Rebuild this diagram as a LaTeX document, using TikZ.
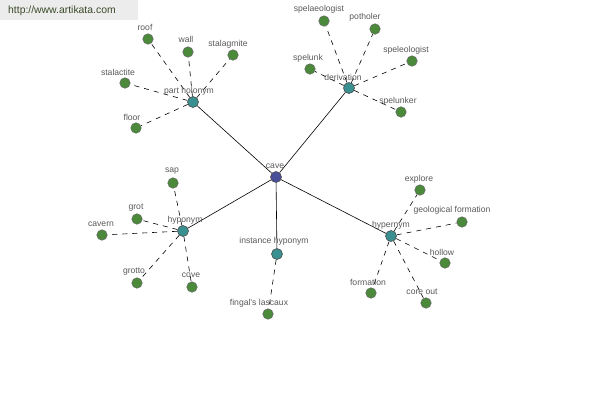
\documentclass[tikz,border=0pt]{standalone}
\usepackage{fontspec}
\setmainfont{Liberation Sans}
\definecolor{centerc}{HTML}{4A4F9A}
\definecolor{hubc}{HTML}{3A9090}
\definecolor{leafc}{HTML}{4A8A3A}
\definecolor{labc}{HTML}{5A5A5A}
\definecolor{urlc}{HTML}{3A4A28}
\definecolor{urlbg}{HTML}{ECECEC}
\begin{document}
\begin{tikzpicture}[x=1pt,y=-1pt,
  centre/.style={circle,draw=black!70,line width=0.6pt,fill=centerc,minimum size=11pt,inner sep=0pt},
  hub/.style={circle,draw=black!70,line width=0.6pt,fill=hubc,minimum size=11pt,inner sep=0pt},
  leaf/.style={circle,draw=black!60,line width=0.5pt,fill=leafc,minimum size=10.5pt,inner sep=0pt},
  lab/.style={text=labc,font=\fontsize{8.6}{9}\selectfont,inner sep=0pt},
  solidedge/.style={draw=black,line width=0.6pt},
  dashedge/.style={draw=black,line width=0.6pt,dash pattern=on 5pt off 5pt}]
\useasboundingbox (0,0) rectangle (600,400);
\fill[white] (0,0) rectangle (600,400);
\node[fill=urlbg,anchor=north west,minimum width=138pt,minimum height=20pt,inner sep=0pt] (urlbox) at (0,0) {};
\node[text=urlc,font=\fontsize{10.4}{12}\selectfont,anchor=west,inner sep=0pt] (url) at (8,11) {http://www.artikata.com};

% centre and hubs
\node[centre] (cave) at (276,177) {};
\node[hub] (ph) at (193,102) {};
\node[hub] (der) at (349,88) {};
\node[hub] (hypo) at (183,231) {};
\node[hub] (inst) at (277,254) {};
\node[hub] (hyper) at (391,236) {};

% leaves
\node[leaf] (roof) at (148,39) {};
\node[leaf] (wall) at (188,52) {};
\node[leaf] (stalagmite) at (233,55) {};
\node[leaf] (stalactite) at (125,83) {};
\node[leaf] (floor) at (136,128) {};

\node[leaf] (spelaeologist) at (324,21) {};
\node[leaf] (potholer) at (375,29) {};
\node[leaf] (speleologist) at (412,61) {};
\node[leaf] (spelunk) at (310,69) {};
\node[leaf] (spelunker) at (401,112) {};

\node[leaf] (sap) at (173,183) {};
\node[leaf] (grot) at (137,219) {};
\node[leaf] (cavern) at (102,235) {};
\node[leaf] (grotto) at (137,283) {};
\node[leaf] (cove) at (192,287) {};

\node[leaf] (fingal) at (268,314) {};

\node[leaf] (explore) at (420,190) {};
\node[leaf] (geo) at (462,222) {};
\node[leaf] (hollow) at (445,263) {};
\node[leaf] (formation) at (371,293) {};
\node[leaf] (coreout) at (426,303) {};

% edges
\path[solidedge] (cave) -- (ph);
\path[solidedge] (cave) -- (der);
\path[solidedge] (cave) -- (hypo);
\path[solidedge] (cave) -- (inst);
\path[solidedge] (cave) -- (hyper);
\foreach \l in {roof,wall,stalagmite,stalactite,floor} \path[dashedge] (ph) -- (\l);
\foreach \l in {spelaeologist,potholer,speleologist,spelunk,spelunker} \path[dashedge] (der) -- (\l);
\foreach \l in {sap,grot,cavern,grotto,cove} \path[dashedge] (hypo) -- (\l);
\path[dashedge] (inst) -- (fingal);
\foreach \l in {explore,geo,hollow,formation,coreout} \path[dashedge] (hyper) -- (\l);

% labels
\node[lab] (lcave) at (275,166) {cave};
\node[lab] (lph) at (189,91) {part holonym};
\node[lab] (lder) at (343,77) {derivation};
\node[lab] (lhypo) at (185,220) {hyponym};
\node[lab] (linst) at (274,241) {instance hyponym};
\node[lab] (lhyper) at (391,225) {hypernym};

\node[lab] (lroof) at (145,27) {roof};
\node[lab] (lwall) at (186,39) {wall};
\node[lab] (lstalagmite) at (228,44) {stalagmite};
\node[lab] (lstalactite) at (118,72) {stalactite};
\node[lab] (lfloor) at (132,117) {floor};

\node[lab] (lspelaeologist) at (319,9) {spelaeologist};
\node[lab] (lpotholer) at (365,17) {potholer};
\node[lab] (lspeleologist) at (406,50) {speleologist};
\node[lab] (lspelunk) at (308,58) {spelunk};
\node[lab] (lspelunker) at (398,101) {spelunker};

\node[lab] (lsap) at (172,171) {sap};
\node[lab] (lgrot) at (136,208) {grot};
\node[lab] (lcavern) at (101,224) {cavern};
\node[lab] (lgrotto) at (134,272) {grotto};
\node[lab] (lcove) at (191,275) {cove};

\node[lab] (lfingal) at (259,303) {fingal's lascaux};

\node[lab] (lexplore) at (419,179) {explore};
\node[lab] (lgeo) at (452,210) {geological formation};
\node[lab] (lhollow) at (442,252) {hollow};
\node[lab] (lformation) at (368,282) {formation};
\node[lab] (lcoreout) at (422,292) {core out};
\end{tikzpicture}
\end{document}
